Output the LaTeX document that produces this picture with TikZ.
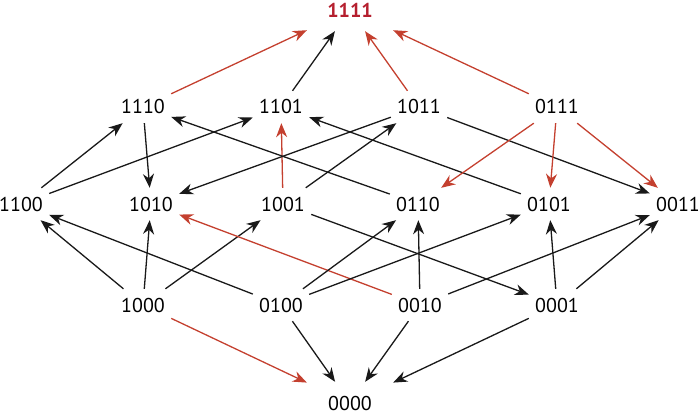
\documentclass[tikz,border=0pt]{standalone}
\usepackage{fontspec}
\setmainfont{PT Sans}
\usepackage{tikz}
\usetikzlibrary{arrows.meta}
\usepackage{xcolor}
\definecolor{arrowRed}{HTML}{C4402F}
\definecolor{topRed}{HTML}{B51F2E}

\begin{document}
\begin{tikzpicture}[
    x=1pt, y=-1pt,
    font=\fontsize{20}{22}\selectfont,
    bit/.style={inner sep=0, minimum width=56pt, minimum height=32pt},
    endbit/.style={inner sep=0, minimum width=86pt, minimum height=42pt},
    edge/.style={-{Stealth[length=14pt, width=11pt, inset=4.5pt]}, line width=1.3pt, black!90},
    hot/.style={edge, draw=arrowRed},
  ]
    \useasboundingbox (0,0) rectangle (700,414);
    % ranks, top to bottom
    \node[endbit, text=topRed, font=\fontsize{20}{22}\selectfont\bfseries] (b1111) at (350,10) {1111};
    \node[bit] (b1110) at (143,107) {1110};
    \node[bit] (b1101) at (281,107) {1101};
    \node[bit] (b1011) at (419,107) {1011};
    \node[bit] (b0111) at (557,107) {0111};
    \node[bit] (b1100) at (21,204)  {1100};
    \node[bit] (b1010) at (151,204) {1010};
    \node[bit] (b1001) at (283,204) {1001};
    \node[bit] (b0110) at (418,204) {0110};
    \node[bit] (b0101) at (549,204) {0101};
    \node[bit] (b0011) at (678,204) {0011};
    \node[bit] (b1000) at (143,305) {1000};
    \node[bit] (b0100) at (281,305) {0100};
    \node[bit] (b0010) at (420,305) {0010};
    \node[bit] (b0001) at (557,305) {0001};
    \node[endbit] (b0000) at (350,403) {0000};
    % into the top
    \draw[hot]  (b1110) -- (b1111);
    \draw[edge] (b1101) -- (b1111);
    \draw[hot]  (b1011) -- (b1111);
    \draw[hot]  (b0111) -- (b1111);
    % between ranks 2 and 3
    \draw[edge] (b1100) -- (b1110);
    \draw[edge] (b1100) -- (b1101);
    \draw[edge] (b1110) -- (b1010);
    \draw[hot]  (b1001) -- (b1101);
    \draw[edge] (b0110) -- (b1110);
    \draw[edge] (b0101) -- (b1101);
    \draw[edge] (b1011) -- (b1010);
    \draw[edge] (b1001) -- (b1011);
    \draw[edge] (b1011) -- (b0011);
    \draw[hot]  (b0111) -- (b0110);
    \draw[hot]  (b0111) -- (b0101);
    \draw[hot]  (b0111) -- (b0011);
    % between ranks 1 and 2
    \draw[edge] (b1000) -- (b1100);
    \draw[edge] (b0100) -- (b1100);
    \draw[edge] (b1000) -- (b1010);
    \draw[edge] (b1000) -- (b1001);
    \draw[hot]  (b0010) -- (b1010);
    \draw[edge] (b1001) -- (b0001);
    \draw[edge] (b0100) -- (b0110);
    \draw[edge] (b0100) -- (b0101);
    \draw[edge] (b0010) -- (b0110);
    \draw[edge] (b0010) -- (b0011);
    \draw[edge] (b0001) -- (b0101);
    \draw[edge] (b0001) -- (b0011);
    % down to the bottom
    \draw[hot]  (b1000) -- (b0000);
    \draw[edge] (b0100) -- (b0000);
    \draw[edge] (b0010) -- (b0000);
    \draw[edge] (b0001) -- (b0000);
  \end{tikzpicture}
\end{document}
